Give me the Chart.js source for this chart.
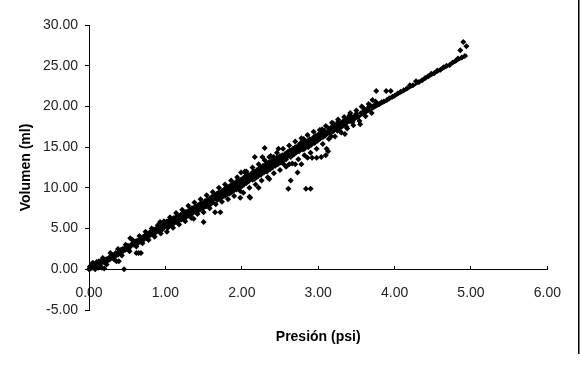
<!DOCTYPE html>
<html lang="es">
<head>
<meta charset="utf-8">
<title>Volumen vs Presión</title>
<script src="https://cdn.jsdelivr.net/npm/chart.js"></script>
<style>
  html, body { margin: 0; padding: 0; background: #fff; }
  .wrap { width: 580px; height: 365px; }
</style>
</head>
<body>
<div class="wrap"><canvas id="grafico" width="580" height="365"></canvas></div>
<script>
// presión (psi) de cada medida
const presion = [
  // 0.0 - 0.5
  0.00, 0.01, 0.02, 0.03, 0.04, 0.05, 0.06, 0.08, 0.09, 0.10,
  0.11, 0.12, 0.13, 0.14, 0.15, 0.16, 0.17, 0.18, 0.19, 0.20,
  0.21, 0.22, 0.24, 0.25, 0.26, 0.27, 0.29, 0.30, 0.31, 0.32,
  0.33, 0.34, 0.35, 0.36, 0.37, 0.38, 0.39, 0.40, 0.41, 0.42,
  0.43, 0.44, 0.45, 0.46, 0.47, 0.48, 0.49, 0.50, 0.51, 0.52,
  // 0.5 - 1.0
  0.54, 0.55, 0.56, 0.58, 0.59, 0.60, 0.61, 0.62, 0.63, 0.64,
  0.65, 0.66, 0.67, 0.68, 0.69, 0.70, 0.71, 0.72, 0.73, 0.74,
  0.75, 0.76, 0.77, 0.78, 0.79, 0.80, 0.81, 0.82, 0.83, 0.84,
  0.85, 0.86, 0.87, 0.88, 0.89, 0.90, 0.91, 0.93, 0.94, 0.95,
  0.96, 0.97, 0.98, 0.99, 1.00,
  // 1.0 - 1.5
  1.01, 1.02, 1.03, 1.04, 1.05, 1.06, 1.07, 1.08, 1.09, 1.10,
  1.11, 1.12, 1.13, 1.14, 1.15, 1.16, 1.17, 1.18, 1.19, 1.20,
  1.21, 1.22, 1.23, 1.24, 1.25, 1.26, 1.27, 1.28, 1.29, 1.30,
  1.31, 1.32, 1.33, 1.34, 1.35, 1.36, 1.37, 1.38, 1.39, 1.40,
  1.41, 1.42, 1.43, 1.44, 1.45, 1.46, 1.47, 1.48, 1.49, 1.50,
  // 1.5 - 2.0
  1.51, 1.52, 1.53, 1.54, 1.55, 1.56, 1.57, 1.58, 1.59, 1.60,
  1.61, 1.62, 1.63, 1.64, 1.65, 1.66, 1.67, 1.68, 1.69, 1.70,
  1.71, 1.72, 1.73, 1.74, 1.75, 1.76, 1.77, 1.78, 1.79, 1.80,
  1.81, 1.82, 1.83, 1.84, 1.85, 1.86, 1.87, 1.88, 1.89, 1.90,
  1.91, 1.92, 1.93, 1.94, 1.95, 1.96, 1.97, 1.98, 1.99, 2.00,
  // 2.0 - 2.5
  2.01, 2.02, 2.03, 2.04, 2.04, 2.05, 2.06, 2.07, 2.08, 2.09,
  2.10, 2.11, 2.12, 2.13, 2.14, 2.15, 2.16, 2.17, 2.18, 2.19,
  2.20, 2.21, 2.22, 2.23, 2.24, 2.25, 2.26, 2.27, 2.28, 2.29,
  2.30, 2.31, 2.32, 2.33, 2.34, 2.35, 2.36, 2.36, 2.37, 2.38,
  2.39, 2.40, 2.41, 2.42, 2.43, 2.44, 2.45, 2.46, 2.47, 2.48,
  2.49, 2.50, 1.99,
  // 2.5 - 3.0
  2.51, 2.52, 2.53, 2.54, 2.55, 2.56, 2.57, 2.58, 2.59, 2.60,
  2.61, 2.62, 2.62, 2.63, 2.64, 2.65, 2.66, 2.67, 2.68, 2.69,
  2.70, 2.70, 2.71, 2.72, 2.73, 2.74, 2.75, 2.76, 2.77, 2.78,
  2.79, 2.80, 2.81, 2.82, 2.83, 2.84, 2.85, 2.86, 2.87, 2.88,
  2.89, 2.90, 2.91, 2.92, 2.93, 2.94, 2.95, 2.96, 2.97, 2.98,
  2.99, 3.00,
  // 3.0 - 3.8
  3.01, 3.02, 3.03, 3.04, 3.05, 3.06, 3.07, 3.08, 3.09, 3.10,
  3.11, 3.12, 3.13, 3.14, 3.15, 3.16, 3.18, 3.19, 3.20, 3.22,
  3.24, 3.25, 3.27, 3.28, 3.30, 3.32, 3.33, 3.35, 3.36, 3.38,
  3.40, 3.42, 3.44, 3.46, 3.48, 3.50, 3.52, 3.55, 3.56, 3.57,
  3.59, 3.61, 3.63, 3.65, 3.68, 3.71, 3.72, 3.74, 3.76, 3.78,
  3.05, 3.17, 3.21, 3.26, 3.29, 3.34, 3.37, 3.41, 3.45, 3.49,
  // 3.8 - 5.0
  3.80, 3.83, 3.86, 3.89, 3.90, 3.93, 3.95, 3.97, 4.00, 4.04,
  4.08, 4.12, 4.16, 4.20, 4.24, 4.28, 4.32, 4.36, 4.40, 4.44,
  4.48, 4.52, 4.56, 4.60, 4.64, 4.68, 4.72, 4.76, 4.80, 4.83,
  4.86, 4.88, 4.90, 4.92, 4.94,
  // medidas más dispersas a los lados de la banda
  0.12, 0.18, 0.23, 0.28, 0.33, 0.38, 0.43, 0.48, 0.53, 0.57,
  0.62, 0.66, 0.70, 0.74, 0.78, 0.82, 0.86, 0.90, 0.94, 0.98,
  1.02, 1.06, 1.10, 1.14, 1.18, 1.22, 1.26, 1.30, 1.34, 1.38,
  1.42, 1.46, 1.50, 1.54, 1.58, 1.62, 1.66, 1.70, 1.74, 1.78,
  1.82, 1.86, 1.90, 1.94, 1.98,
  2.02, 2.06, 2.10, 2.14, 2.18, 2.22, 2.26, 2.30, 2.34, 2.38,
  2.42, 2.46, 2.50, 2.54, 2.58, 2.62, 2.66, 2.70, 2.74, 2.78,
  2.82, 2.86, 2.90, 2.94, 2.98,
  3.02, 3.06, 3.10, 3.14, 3.18, 3.22, 3.26, 3.30, 3.34, 3.38,
  3.42, 3.46, 3.50, 3.54, 3.58, 3.62, 3.66, 3.70, 3.75,
  1.04, 1.12, 1.20, 1.28, 1.36, 1.44, 1.52, 1.60, 1.68, 1.76,
  1.84, 1.92, 2.00, 2.08, 2.16, 2.24, 2.32, 2.40, 2.48, 2.56,
  2.64, 2.72, 2.80, 2.88, 2.96
];

// volumen (ml) de cada medida, mismo orden que presion
const volumen = [
  0.0, 0.3, 0.1, 0.5, 0.2, 0.8, 0.4, 0.0, 0.6, 0.9,
  0.3, 0.7, 1.0, 0.5, 0.9, 0.8, 0.2, 1.1, 0.9, 0.1,
  1.2, 1.0, 1.3, 1.1, 1.4, 1.2, 1.6, 1.4, 1.7, 1.5,
  1.8, 1.6, 2.0, 1.0, 1.9, 1.8, 1.0, 2.2, 2.0, 2.4,
  2.1, 2.5, 2.3, 0.0, 2.6, 2.4, 2.7, 2.6, 2.9, 2.5,

  3.8, 2.9, 3.1, 3.0, 3.3, 3.1, 3.4, 2.0, 3.5, 3.2,
  2.0, 3.6, 3.4, 2.0, 3.8, 3.6, 4.0, 3.7, 3.9, 4.2,
  3.8, 4.0, 4.3, 4.1, 4.5, 4.2, 4.6, 4.3, 4.8, 4.4,
  4.9, 4.6, 4.5, 5.0, 4.7, 5.1, 4.8, 5.8, 5.0, 5.3,
  4.9, 5.4, 5.2, 5.6, 5.3,

  5.5, 5.9, 5.1, 5.6, 6.0, 5.4, 5.8, 6.1, 5.5, 5.9,
  6.3, 5.7, 6.0, 6.4, 5.8, 6.2, 6.5, 6.0, 6.3, 6.7,
  6.1, 6.5, 6.8, 6.2, 6.6, 7.0, 6.4, 6.8, 7.1, 6.6,
  7.0, 7.3, 6.7, 7.1, 7.5, 6.9, 6.2, 7.4, 7.7, 7.1,
  7.5, 7.8, 7.2, 7.6, 8.0, 7.4, 7.8, 8.1, 7.5, 5.8,

  7.9, 8.3, 7.7, 8.1, 8.5, 7.9, 8.3, 8.7, 8.0, 8.5,
  8.9, 8.2, 8.6, 9.0, 7.0, 8.8, 9.2, 8.5, 9.0, 9.4,
  8.7, 7.0, 9.2, 9.6, 8.9, 9.4, 9.8, 9.0, 9.5, 10.0,
  9.2, 9.7, 10.1, 9.3, 9.9, 10.3, 9.5, 10.0, 10.5, 9.7,
  10.2, 10.7, 9.8, 10.4, 10.9, 10.0, 10.5, 8.8, 11.0, 10.2,

  10.8, 11.2, 10.4, 12.0, 11.9, 11.4, 10.6, 11.1, 11.6, 10.8,
  8.9, 8.8, 11.3, 11.8, 11.0, 11.5, 12.0, 13.8, 11.2, 11.7,
  12.2, 11.4, 10.0, 12.0, 12.5, 11.6, 12.2, 13.8, 12.7, 11.9,
  14.9, 12.4, 12.9, 12.0, 12.6, 13.1, 13.8, 11.1, 12.3, 12.8,
  13.3, 12.5, 13.0, 13.8, 13.5, 12.7, 13.2, 13.7, 12.9, 14.8,
  13.4, 13.9, 11.9,

  13.1, 13.6, 14.0, 13.3, 12.9, 13.8, 14.2, 13.5, 14.0, 14.4,
  9.9, 12.9, 14.1, 14.6, 10.9, 13.9, 14.3, 14.8, 14.1, 14.5,
  12.9, 15.0, 14.3, 14.8, 11.9, 15.2, 14.5, 15.0, 15.5, 12.9,
  15.0, 15.5, 16.0, 14.8, 15.3, 9.9, 15.7, 13.7, 15.0, 15.6,
  16.0, 9.9, 15.3, 13.7, 15.8, 16.2, 15.5, 16.0, 16.4, 13.7,
  15.8, 16.2,

  16.6, 16.0, 16.4, 13.8, 16.8, 16.2, 16.6, 17.0, 16.4, 14.0,
  14.8, 16.9, 14.5, 17.3, 16.7, 17.1, 17.5, 16.9, 17.9, 17.2,
  17.6, 17.0, 17.8, 17.0, 18.0, 17.6, 18.2, 16.6, 18.0, 18.4,
  18.6, 18.2, 18.7, 18.4, 18.9, 19.1, 18.7, 17.8, 19.2, 20.0,
  19.3, 19.6, 19.4, 19.8, 20.1, 20.8, 19.9, 20.2, 21.9, 20.3,
  17.2, 16.3, 17.5, 18.1, 17.4, 17.9, 17.5, 18.9, 18.1, 18.6,

  20.3, 20.5, 20.6, 21.9, 20.8, 21.0, 21.9, 21.2, 21.3, 21.6,
  21.8, 22.0, 22.2, 22.6, 22.6, 23.1, 23.0, 23.2, 23.5, 23.7,
  24.0, 24.1, 24.4, 24.5, 24.8, 25.0, 25.1, 25.4, 25.6, 25.9,
  26.9, 26.0, 27.9, 26.2, 27.4,

  0.2, 1.4, 0.6, 2.0, 1.2, 2.5, 1.7, 3.0, 2.2, 3.6,
  2.8, 4.1, 3.2, 4.6, 3.6, 5.0, 4.0, 5.4, 4.4, 5.9,
  4.6, 6.4, 5.1, 6.9, 5.5, 7.3, 5.9, 7.8, 6.3, 8.2,
  6.8, 8.6, 7.0, 9.1, 7.5, 9.5, 8.0, 10.0, 8.3, 10.4,
  8.6, 10.9, 9.0, 11.3, 9.6,
  9.4, 12.0, 10.0, 12.5, 10.4, 12.9, 10.9, 13.4, 11.3, 13.9,
  11.8, 14.3, 12.2, 14.8, 12.6, 15.2, 13.0, 15.7, 13.5, 16.1,
  14.0, 16.5, 14.3, 16.9, 14.8,
  17.1, 15.4, 17.6, 16.0, 18.0, 16.3, 18.4, 16.8, 18.7, 17.3,
  19.2, 17.7, 19.5, 18.2, 19.9, 18.8, 20.3, 19.2, 20.6,
  5.2, 6.2, 6.3, 7.0, 7.4, 7.9, 8.4, 8.3, 9.3, 9.2,
  10.2, 10.0, 10.9, 11.3, 11.1, 12.3, 12.1, 13.2, 13.0, 13.9,
  13.8, 14.8, 14.7, 15.5, 15.6
];

// línea de tendencia (extremos)
const tendenciaX = [0.00, 4.95];
const tendenciaY = [-0.1, 26.3];

const ticksX = [0, 1, 2, 3, 4, 5, 6];
const ticksY = [-5, 0, 5, 10, 15, 20, 25, 30];

const fuente = '"Liberation Sans", Arial, sans-serif';

// titulos de ejes y linea del marco a la derecha
const extras = {
  id: 'extras',
  afterDraw(chart) {
    const ctx = chart.ctx;
    const area = chart.chartArea;
    ctx.save();
    ctx.fillStyle = '#000';
    ctx.font = 'bold 14px ' + fuente;
    ctx.textAlign = 'center';
    ctx.textBaseline = 'middle';
    ctx.fillText('Presión (psi)', (area.left + area.right) / 2, 337);
    ctx.translate(26, (area.top + area.bottom) / 2);
    ctx.rotate(-Math.PI / 2);
    ctx.fillText('Volumen (ml)', 0, 0);
    ctx.restore();
    ctx.fillStyle = '#000';
    ctx.fillRect(578, 0, 1.5, 354);
  }
};

const puntos = presion.map(function(x, i) { return { x: x, y: volumen[i] }; });
const tendencia = tendenciaX.map(function(x, i) { return { x: x, y: tendenciaY[i] }; });

new Chart(document.getElementById('grafico'), {
  type: 'scatter',
  data: {
    datasets: [{
      label: 'Volumen',
      data: puntos,
      pointStyle: 'rectRot',
      pointRadius: 3,
      backgroundColor: '#000',
      borderWidth: 0,
      clip: false,
      order: 1
    }, {
      label: 'Tendencia',
      type: 'line',
      data: tendencia,
      showLine: true,
      borderColor: '#000',
      borderWidth: 2.8,
      pointRadius: 0,
      order: 0
    }]
  },
  options: {
    responsive: false,
    animation: false,
    devicePixelRatio: 1,
    layout: { padding: { top: 25, right: 27, bottom: 55, left: 0 } },
    plugins: {
      legend: { display: false },
      tooltip: { enabled: false }
    },
    scales: {
      x: {
        type: 'linear',
        position: { y: 0 },
        min: 0,
        max: 6,
        afterBuildTicks: function(scale) {
          scale.ticks = ticksX.map(function(v) { return { value: v }; });
        },
        border: { display: true, color: '#000', width: 1 },
        grid: { drawOnChartArea: false, drawTicks: true, tickLength: -4, color: '#000' },
        ticks: {
          autoSkip: false,
          maxRotation: 0,
          padding: 19,
          color: '#222',
          font: { family: fuente, size: 14 },
          callback: function(v) { return Number(v).toFixed(2); }
        }
      },
      y: {
        type: 'linear',
        position: 'left',
        min: -5,
        max: 30,
        afterBuildTicks: function(scale) {
          scale.ticks = ticksY.map(function(v) { return { value: v }; });
        },
        afterFit: function(scale) { scale.width = 89; },
        border: { display: true, color: '#000', width: 1 },
        grid: { drawOnChartArea: false, drawTicks: true, tickLength: 4, color: '#000' },
        ticks: {
          padding: 7,
          color: '#222',
          font: { family: fuente, size: 14 },
          callback: function(v) { return Number(v).toFixed(2); }
        }
      }
    }
  },
  plugins: [extras]
});
</script>
</body>
</html>
